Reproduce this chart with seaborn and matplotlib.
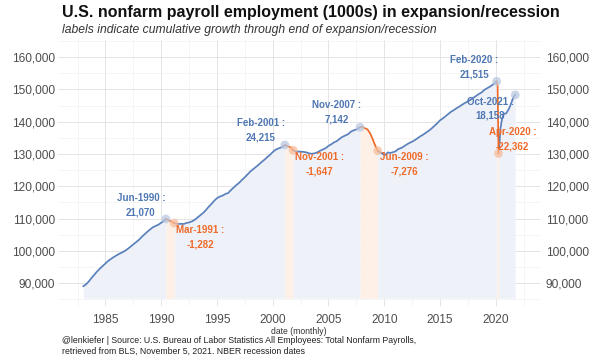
import numpy as np
import pandas as pd
import matplotlib
matplotlib.use("Agg")
import matplotlib.pyplot as plt
import seaborn as sns
from matplotlib.ticker import FuncFormatter, MultipleLocator

# ---------------- data (thousands of jobs) ----------------
months = [
    "1983-01", "1983-04", "1983-07", "1983-10", "1984-01", "1984-04", "1984-07", "1984-10",
    "1985-01", "1985-04", "1985-07", "1985-10", "1986-01", "1986-04", "1986-07", "1986-10",
    "1987-01", "1987-04", "1987-07", "1987-10", "1988-01", "1988-04", "1988-07", "1988-10",
    "1989-01", "1989-04", "1989-07", "1989-10", "1990-01", "1990-04", "1990-06", "1990-10",
    "1991-01", "1991-03", "1991-07", "1991-10", "1992-01", "1992-04", "1992-07", "1992-10",
    "1993-01", "1993-04", "1993-07", "1993-10", "1994-01", "1994-04", "1994-07", "1994-10",
    "1995-01", "1995-04", "1995-07", "1995-10", "1996-01", "1996-04", "1996-07", "1996-10",
    "1997-01", "1997-04", "1997-07", "1997-10", "1998-01", "1998-04", "1998-07", "1998-10",
    "1999-01", "1999-04", "1999-07", "1999-10", "2000-01", "2000-04", "2000-07", "2000-10",
    "2001-01", "2001-02", "2001-04", "2001-07", "2001-09", "2001-11", "2002-01", "2002-04",
    "2002-07", "2002-10", "2003-01", "2003-04", "2003-07", "2003-10", "2004-01", "2004-04",
    "2004-07", "2004-10", "2005-01", "2005-04", "2005-07", "2005-10", "2006-01", "2006-04",
    "2006-07", "2006-10", "2007-01", "2007-04", "2007-07", "2007-11", "2008-01", "2008-04",
    "2008-07", "2008-10", "2009-01", "2009-03", "2009-06", "2009-10", "2010-02", "2010-05",
    "2010-07", "2010-10", "2011-01", "2011-04", "2011-07", "2011-10", "2012-01", "2012-04",
    "2012-07", "2012-10", "2013-01", "2013-04", "2013-07", "2013-10", "2014-01", "2014-04",
    "2014-07", "2014-10", "2015-01", "2015-04", "2015-07", "2015-10", "2016-01", "2016-04",
    "2016-07", "2016-10", "2017-01", "2017-04", "2017-07", "2017-10", "2018-01", "2018-04",
    "2018-07", "2018-10", "2019-01", "2019-04", "2019-07", "2019-10", "2020-01", "2020-02",
    "2020-03", "2020-04", "2020-05", "2020-06", "2020-07", "2020-08", "2020-10", "2020-12",
    "2021-02", "2021-04", "2021-06", "2021-08", "2021-10",
]
payroll = [
    88990, 89600, 90500, 91600, 92600, 93600, 94500, 95300,
    96100, 96900, 97500, 98100, 98600, 99100, 99500, 100000,
    100600, 101300, 102000, 102700, 103400, 104300, 105100, 105900,
    106600, 107300, 107700, 108100, 108700, 109300, 109840, 109300,
    108900, 108560, 108300, 108350, 108300, 108600, 108800, 109100,
    109600, 110300, 111000, 111700, 112600, 113600, 114500, 115500,
    116300, 116800, 117100, 117600, 117900, 118800, 119600, 120400,
    121100, 122000, 122800, 123700, 124600, 125300, 126000, 126700,
    127500, 128200, 129000, 129700, 130600, 131300, 131700, 132000,
    132500, 132780, 132550, 132200, 131900, 131130, 130900, 130750,
    130700, 130650, 130500, 130200, 130050, 130200, 130500, 131000,
    131400, 131800, 132500, 133000, 133600, 134000, 134700, 135300,
    135700, 136100, 136900, 137300, 137600, 138270, 138400, 138000,
    137600, 136300, 134300, 132800, 130994, 130200, 129700, 130500,
    130300, 130500, 130800, 131500, 131800, 132300, 132900, 133400,
    133800, 134300, 134900, 135500, 136000, 136600, 137200, 137900,
    138700, 139500, 140400, 141000, 141700, 142400, 143100, 143600,
    144200, 144700, 145300, 145800, 146300, 146800, 147400, 148000,
    148600, 149100, 149900, 150400, 150900, 151500, 152200, 152510,
    151100, 130150, 133000, 137800, 139600, 141100, 142500, 142500,
    143400, 144500, 146000, 147600, 148300,
]

# turning points (peak / trough / latest) and cumulative growth labels
turn_months = ["1990-06", "1991-03", "2001-02", "2001-11", "2007-11",
               "2009-06", "2020-02", "2020-04", "2021-10"]
turn_growth = [21070, -1282, 24215, -1647, 7142, -7276, 21515, -22362, 18158]
turn_phase = ["expansion", "recession", "expansion", "recession", "expansion",
              "recession", "expansion", "recession", "expansion"]

y_ticks = [90000, 100000, 110000, 120000, 130000, 140000, 150000, 160000]
x_ticks = [1985, 1990, 1995, 2000, 2005, 2010, 2015, 2020]

# ---------------- prep ----------------
def to_year(m):
    ts = pd.Timestamp(m + "-01")
    return ts.year + (ts.month - 1) / 12.0

df = pd.DataFrame({"month": months, "value": payroll})
df["t"] = df["month"].map(to_year)

bounds = [months[0]] + turn_months
bounds_t = [to_year(b) for b in bounds]
seg_rows = []
for i in range(len(bounds_t) - 1):
    lo, hi = bounds_t[i], bounds_t[i + 1]
    phase = "recession" if i % 2 == 1 else "expansion"
    sub = df[(df["t"] >= lo - 1e-9) & (df["t"] <= hi + 1e-9)].copy()
    sub["seg"] = i
    sub["phase"] = phase
    seg_rows.append(sub)
seg_df = pd.concat(seg_rows, ignore_index=True)

tp = pd.DataFrame({"month": turn_months, "growth": turn_growth, "phase": turn_phase})
tp["t"] = tp["month"].map(to_year)
tp["value"] = tp["month"].map(dict(zip(months, payroll)))

# ---------------- style ----------------
sns.set_theme(style="white")
plt.rcParams["font.family"] = ["Liberation Sans", "DejaVu Sans"]

BLUE = "#5a80bb"
BLUE_TXT = "#4f77b3"
ORANGE = "#ee6a2a"
palette = {"expansion": BLUE, "recession": ORANGE}
fill_col = {"expansion": "#eef2f8", "recession": "#fef0e6"}
pt_col = {"expansion": "#b9c8e0", "recession": "#f7bd9c"}

W, H = 600, 360
fig = plt.figure(figsize=(6, 3.6), dpi=100)
ax = fig.add_axes([58 / W, 1 - 306 / H, 482 / W, 266 / H])

YMIN_FILL = 85300
for seg, sub in seg_df.groupby("seg"):
    ax.fill_between(sub["t"], YMIN_FILL, sub["value"],
                    color=fill_col[sub["phase"].iloc[0]], lw=0, zorder=1)

sns.lineplot(data=seg_df, x="t", y="value", hue="phase", units="seg",
             estimator=None, sort=False, palette=palette, legend=False,
             lw=1.25, ax=ax, zorder=3)

sns.scatterplot(data=tp, x="t", y="value", hue="phase", palette=pt_col,
                s=40, alpha=0.75, edgecolor="none", legend=False, ax=ax, zorder=4)

# label offsets (points)
offsets = [(-18, 9.7), (18.7, -10), (-17.3, 10.8), (18.7, -10), (-17, 10.5),
           (19.4, -10), (-16.3, 10.4), (10, 10.4), (-18, -10)]
for (i, r), off in zip(tp.iterrows(), offsets):
    lab = pd.Timestamp(r["month"] + "-01").strftime("%b-%Y") + " :\n" + f"{r['growth']:,}"
    col = ORANGE if r["phase"] == "recession" else BLUE_TXT
    ax.annotate(lab, xy=(r["t"], r["value"]), xytext=off, textcoords="offset points",
                ha="center", va="center", multialignment="center", fontsize=7,
                fontweight="bold", color=col, linespacing=1.55, zorder=6)

ax.set_xlim(1980.74, 2023.97)
ax.set_ylim(82900, 165300)
ax.set_xticks(x_ticks)
ax.set_yticks(y_ticks)
ax.xaxis.set_minor_locator(MultipleLocator(2.5))
ax.yaxis.set_minor_locator(MultipleLocator(5000))
fmt = FuncFormatter(lambda v, p: f"{int(v):,}")
ax.yaxis.set_major_formatter(fmt)
ax.grid(which="major", color="#e4e4e4", lw=0.7, zorder=0)
ax.grid(which="minor", color="#f1f1f1", lw=0.5, zorder=0)
ax.set_axisbelow(True)
for s in ax.spines.values():
    s.set_visible(False)
ax.tick_params(axis="both", which="both", length=0, labelsize=8.6, labelcolor="#4d4d4d")
ax.tick_params(axis="x", pad=6)
ax.tick_params(axis="y", pad=2)
ax.set_xlabel("date (monthly)", fontsize=6.2, color="#333333", labelpad=0.5)
ax.set_ylabel("")

ax2 = ax.twinx()
ax2.set_ylim(ax.get_ylim())
ax2.set_yticks(y_ticks)
ax2.yaxis.set_major_formatter(fmt)
ax2.tick_params(axis="y", length=0, labelsize=8.6, labelcolor="#4d4d4d", pad=4)
ax2.grid(False)
for s in ax2.spines.values():
    s.set_visible(False)

fig.text(62 / W, 1 - 13 / H, "U.S. nonfarm payroll employment (1000s) in expansion/recession",
         fontsize=11.5, fontweight="bold", color="#111111", ha="left", va="center")
fig.text(62 / W, 1 - 30 / H, "labels indicate cumulative growth through end of expansion/recession",
         fontsize=8.7, style="italic", color="#333333", ha="left", va="center")
fig.text(62 / W, 1 - 346 / H,
         "@lenkiefer | Source: U.S. Bureau of Labor Statistics All Employees: Total Nonfarm Payrolls,\n"
         "retrieved from BLS, November 5, 2021. NBER recession dates",
         fontsize=6.3, color="#222222", ha="left", va="center", linespacing=1.25)

fig.savefig("out.png", dpi=100, facecolor="white")
